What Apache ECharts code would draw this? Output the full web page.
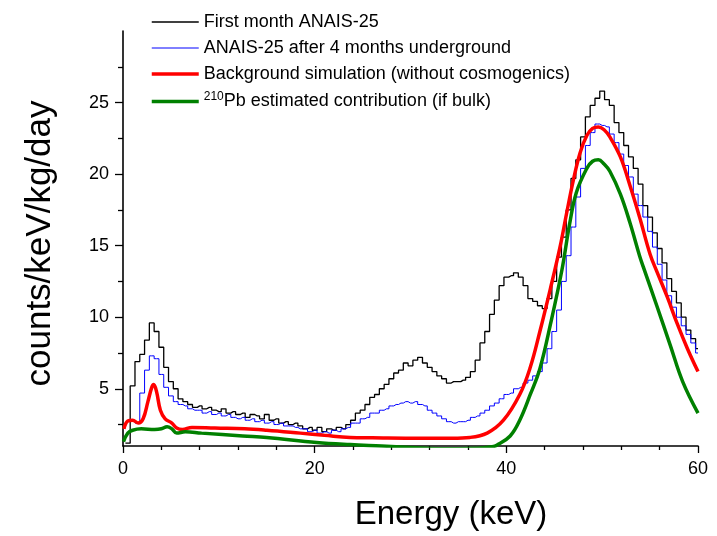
<!DOCTYPE html>
<html>
<head>
<meta charset="utf-8">
<script src="https://cdn.jsdelivr.net/npm/echarts@6/dist/echarts.min.js"></script>
<style>
  html, body { margin: 0; padding: 0; background: #fff; }
  #chart { width: 717px; height: 536px; }
</style>
</head>
<body>
<div id="chart"></div>
<script>
// histogram spectra, bins of 0.5 keV starting at 0 keV
var binWidth = 0.5;

var firstMonth = [
    null, 1.2, 5.2, 6.9, 7.4, 8.4, 9.6, 9.0, 7.9, 6.5,
    5.5, 5.0, 4.3, 4.1, 3.9, 3.7, 3.8, 3.6, 3.7, 3.5,
    3.4, 3.6, 3.3, 3.4, 3.2, 3.3, 3.0, 3.2, 3.1, 2.9,
    3.2, 2.8, 2.9, 2.6, 2.7, 2.5, 2.6, 2.4, 2.2, 2.3,
    2.1, 2.3, 2.0, 2.2, 2.1, 2.3, 2.2, 2.5, 2.8, 3.3,
    3.5, 3.9, 4.4, 4.6, 5.0, 5.3, 5.7, 6.1, 6.3, 6.8,
    6.6, 7.0, 7.2, 6.8, 6.5, 6.2, 5.9, 5.7, 5.4, 5.5,
    5.5, 5.6, 5.8, 6.2, 7.0, 8.2, 9.0, 10.2, 11.2, 12.2,
    12.8, 12.9, 13.1, 12.8, 12.2, 11.3, 11.1, 10.8, 10.6, 11.3,
    12.5, 14.2, 15.6, 17.5, 19.7, 21.0, 22.6, 24.0, 24.8, 25.3,
    25.8, 25.2, 24.8, 23.6, 22.9, 22.0, 21.2, 20.4, 19.3, 17.8,
    17.0, 15.9, 14.8, 13.8, 12.7, 11.8, 11.0, 10.0, 9.1, 8.5,
    7.8
];

var after4Months = [
    null, null, null, 2.6, 4.7, 6.3, 7.3, 7.1, 6.0, 5.1,
    4.5, 4.1, 3.9, 3.8, 3.6, 3.5, 3.5, 3.3, 3.4, 3.2,
    3.3, 3.1, 3.2, 3.0, 2.9, 3.0, 2.8, 2.9, 2.7, 2.8,
    2.6, 2.7, 2.5, 2.6, 2.4, 2.4, 2.3, 2.2, 2.2, 2.0,
    2.1, 1.9, 2.0, 1.9, 2.1, 2.0, 2.2, 2.3, 2.6, 2.6,
    2.9, 3.0, 3.3, 3.3, 3.5, 3.6, 3.8, 3.9, 4.0, 4.1,
    4.0, 4.1, 3.9, 3.8, 3.5, 3.3, 3.1, 2.9, 2.7, 2.6,
    2.7, 2.7, 2.8, 3.0, 3.1, 3.3, 3.5, 3.8, 4.0, 4.3,
    4.6, 4.7, 5.0, 5.1, 5.4, 5.6, 5.9, 6.2, 6.8, 7.8,
    9.0, 10.5, 12.5, 14.3, 16.3, 18.4, 20.4, 22.0, 22.9, 23.5,
    23.4, 23.3, 22.8, 22.2, 21.4, 20.6, 19.8, 18.6, 17.8, 17.0,
    16.0, 14.9, 13.7, 12.6, 11.5, 10.7, 10.0, 9.4, 8.8, 8.2,
    7.5
];

// simulated curves (energy, value)
var simEnergy = [0.1, 0.5, 1.0, 1.6, 2.1, 2.6, 3.0, 3.2, 3.5, 3.9, 4.4, 5.1, 5.6, 6.2, 7.2, 9.6, 12.7, 15.0, 18.5, 21.0,
                 23.7, 26.0, 31.0, 34.4, 36.2, 38.0, 39.7, 41.4, 42.5, 43.5, 44.6, 45.6, 46.3, 47.0, 47.7, 48.4, 49.0,
                 49.6, 50.2, 50.8, 51.9, 52.9, 53.9, 55.0, 55.7, 56.8, 57.8, 58.9, 60.0];
var simValue = [2.2, 2.75, 2.8, 2.6, 2.9, 4.1, 5.1, 5.3, 4.8, 3.5, 2.9, 2.6, 2.25, 2.15, 2.3, 2.25, 2.2, 2.1, 1.9, 1.75,
                1.6, 1.58, 1.55, 1.55, 1.6, 1.9, 2.8, 4.6, 6.5, 9.0, 12.0, 14.9, 17.3, 19.6, 21.5, 22.7, 23.2,
                23.3, 23.1, 22.6, 21.2, 19.2, 17.0, 14.4, 13.2, 11.4, 9.6, 7.8, 6.2];

var pbEnergy = [0.05, 0.5, 1.0, 1.9, 3.3, 4.0, 4.6, 5.1, 5.6, 6.5, 8.2, 12.5, 15.0, 20.2, 23.7, 27.0, 30.0, 33.0, 37.0,
                38.5, 39.0, 40.4, 41.4, 42.5, 43.5, 44.6, 45.8, 46.6, 47.3, 48.4, 49.0, 49.6, 50.2, 50.8, 51.9,
                52.9, 53.9, 54.3, 55.7, 57.1, 58.4, 60.0];
var pbValue = [1.3, 1.9, 2.1, 2.2, 2.15, 2.2, 2.35, 2.2, 1.9, 2.0, 1.9, 1.7, 1.6, 1.25, 1.1, 1.0, 0.9, 0.8, 0.85,
               0.95, 1.05, 1.7, 2.8, 4.6, 6.4, 9.5, 13.3, 16.5, 18.7, 20.4, 20.9, 21.0, 20.7, 20.2, 18.6,
               16.6, 14.3, 13.5, 10.8, 8.05, 5.5, 3.3];

var yMajor = [5, 10, 15, 20, 25];
var yMinor = [2.5, 7.5, 12.5, 17.5, 22.5, 27.5];

var seriesNames = [
    'First month ANAIS-25',
    'ANAIS-25 after 4 months underground',
    'Background simulation (without cosmogenics)',
    '210Pb estimated contribution (if bulk)'
];
var lineColors = ['#000000', '#0000ff', '#ff0000', '#008000'];
var lineWidths = [1.3, 1, 3.5, 3.5];

var FONT = '"Liberation Sans", Arial, sans-serif';

function binned(values) {
    return values.map(function (v, i) { return [i * binWidth, v]; });
}
function paired(xs, ys) {
    return xs.map(function (x, i) { return [x, ys[i]]; });
}

var chart = echarts.init(document.getElementById('chart'));

chart.setOption({
    animation: false,
    backgroundColor: '#fff',
    textStyle: { fontFamily: FONT },
    grid: { left: 123, right: 19, top: 31, bottom: 83 },
    legend: {
        orient: 'vertical',
        left: 150,
        top: 13,
        padding: 0,
        itemWidth: 47,
        itemHeight: 18,
        itemGap: 8,
        itemStyle: { opacity: 0 },
        textStyle: {
            fontFamily: FONT,
            fontSize: 18,
            color: '#000',
            rich: {
                sup: { fontFamily: FONT, fontSize: 12, color: '#000', padding: [0, 0, 9, 0] },
                n: { fontFamily: FONT, fontSize: 18, color: '#000' }
            }
        },
        formatter: function (name) {
            if (name === seriesNames[3]) {
                return '{sup|210}{n|Pb estimated contribution (if bulk)}';
            }
            return name;
        },
        data: seriesNames.map(function (name, i) {
            return { name: name, lineStyle: { color: lineColors[i], width: lineWidths[i] } };
        })
    },
    xAxis: {
        type: 'value',
        min: 0,
        max: 60,
        interval: 20,
        name: 'Energy (keV)',
        nameLocation: 'middle',
        nameGap: 52,
        nameTextStyle: { fontFamily: FONT, fontSize: 33, color: '#000', padding: [0, 0, 0, 81] },
        axisLine: { onZero: false, lineStyle: { color: '#000', width: 1.6 } },
        axisTick: { length: 7, lineStyle: { color: '#000', width: 1.3 } },
        minorTick: { show: true, splitNumber: 5, length: 4, lineStyle: { color: '#000', width: 1.3 } },
        axisLabel: { fontFamily: FONT, fontSize: 18, color: '#000', margin: 14 },
        splitLine: { show: false },
        minorSplitLine: { show: false }
    },
    yAxis: [
        {
            type: 'value',
            min: 1,
            max: 30,
            position: 'left',
            name: 'counts/keV/kg/day',
            nameLocation: 'middle',
            nameRotate: 90,
            nameGap: 65,
            nameTextStyle: { fontFamily: FONT, fontSize: 35, color: '#000', padding: [0, 10, 0, 0] },
            axisLine: { show: true, onZero: false, lineStyle: { color: '#000', width: 1.6 } },
            axisTick: { show: true, length: 8, customValues: yMajor, lineStyle: { color: '#000', width: 1.3 } },
            axisLabel: { customValues: yMajor, fontFamily: FONT, fontSize: 18, color: '#000', margin: 14 },
            splitLine: { show: false }
        },
        {
            type: 'value',
            min: 1,
            max: 30,
            position: 'left',
            offset: 0,
            axisLine: { show: false },
            axisTick: { show: true, length: 5, customValues: yMinor, lineStyle: { color: '#000', width: 1.3 } },
            axisLabel: { show: false },
            splitLine: { show: false }
        }
    ],
    series: [
        {
            name: seriesNames[0],
            type: 'line',
            step: 'middle',
            symbol: 'none',
            data: binned(firstMonth),
            lineStyle: { color: lineColors[0], width: lineWidths[0] },
            itemStyle: { color: lineColors[0] }
        },
        {
            name: seriesNames[1],
            type: 'line',
            step: 'middle',
            symbol: 'none',
            data: binned(after4Months),
            lineStyle: { color: lineColors[1], width: lineWidths[1] },
            itemStyle: { color: lineColors[1] }
        },
        {
            name: seriesNames[2],
            type: 'line',
            smooth: 0.4,
            symbol: 'none',
            data: paired(simEnergy, simValue),
            lineStyle: { color: lineColors[2], width: lineWidths[2] },
            itemStyle: { color: lineColors[2] }
        },
        {
            name: seriesNames[3],
            type: 'line',
            smooth: 0.4,
            symbol: 'none',
            data: paired(pbEnergy, pbValue),
            lineStyle: { color: lineColors[3], width: lineWidths[3] },
            itemStyle: { color: lineColors[3] }
        }
    ]
});
</script>
</body>
</html>
